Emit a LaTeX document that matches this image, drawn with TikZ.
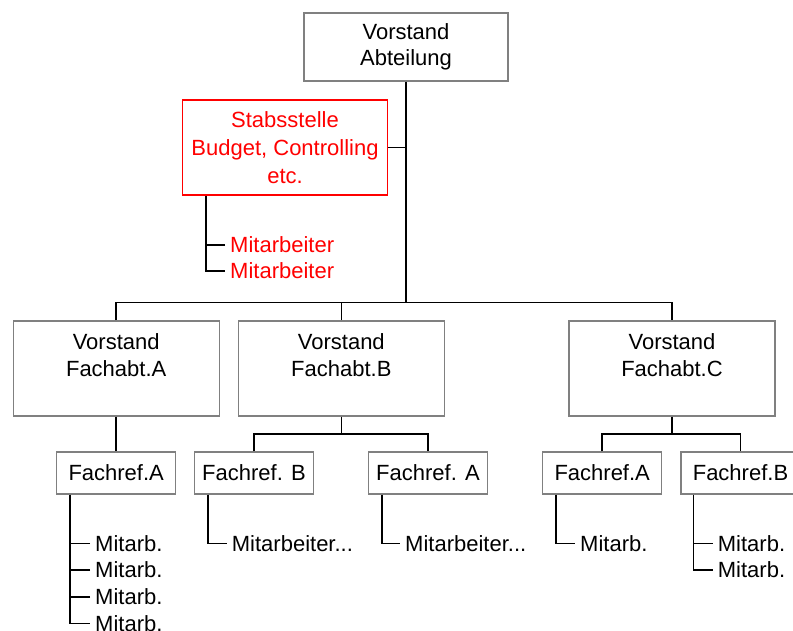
\documentclass[tikz,border=0pt]{standalone}
\usepackage{fontspec}
\setmainfont{Liberation Sans}
\definecolor{boxgray}{RGB}{128,128,128}
\begin{document}
\begin{tikzpicture}[x=1pt,y=-1pt,
  box/.style={draw=boxgray, line width=1.4pt, fill=white, inner sep=0pt,
    align=center, font=\fontsize{22}{26}\selectfont},
  stabbox/.style={box, draw=red, text=red, font=\fontsize{22}{28}\selectfont},
  bigbox/.style={box, minimum width=206pt, minimum height=95pt},
  refbox/.style={box, minimum width=119pt, minimum height=42pt},
  txt/.style={align=center, font=\fontsize{22}{27}\selectfont, inner sep=0pt},
  item/.style={anchor=west, font=\fontsize{22}{27}\selectfont, inner xsep=5pt, inner ysep=0pt},
  conn/.style={line width=1.6pt, black}]
\useasboundingbox (0,0) rectangle (793,630);

% top level
\node[box, minimum width=204pt, minimum height=68pt] (vor) at (406,47) {Vorstand\\Abteilung};
\node[stabbox, minimum width=205pt, minimum height=95pt] (stab) at (285,147.5)
  {Stabsstelle\\Budget, Controlling\\etc.};

% department heads
\node[bigbox] (fA) at (116.2,368.4) {};
\node[bigbox] (fB) at (341.3,368.4) {};
\node[bigbox] (fC) at (672,368.4) {};
\node[txt] (fAt) at (116.2,355.5) {Vorstand\\Fachabt.A};
\node[txt] (fBt) at (341.3,355.5) {Vorstand\\Fachabt.B};
\node[txt] (fCt) at (672,355.5) {Vorstand\\Fachabt.C};

% specialist units
\node[refbox] (rA)  at (116.2,473) {Fachref.A};
\node[refbox] (rB1) at (254,473)   {Fachref. B};
\node[refbox] (rB2) at (428,473)   {Fachref. A};
\node[refbox] (rC1) at (602.2,473) {Fachref.A};
\node[refbox] (rC2) at (740.5,473) {Fachref.B};

% staff entries
\node[item, text=red] (s1) at (225,245) {Mitarbeiter};
\node[item, text=red] (s2) at (225,271) {Mitarbeiter};
\node[item] (mA1) at (90,543.3) {Mitarb.};
\node[item] (mA2) at (90,570)   {Mitarb.};
\node[item] (mA3) at (90,596.7) {Mitarb.};
\node[item] (mA4) at (90,623.3) {Mitarb.};
\node[item] (mB1) at (226.7,543.3) {Mitarbeiter...};
\node[item] (mB2) at (400,543.3)   {Mitarbeiter...};
\node[item] (mC1) at (575,543.3)   {Mitarb.};
\node[item] (mC2) at (712.7,543.3) {Mitarb.};
\node[item] (mC3) at (712.7,570)   {Mitarb.};

% bus lines
\coordinate (bus) at (406,302.3);
\coordinate (busB) at (341.3,434);
\coordinate (busC) at (672,434);

% trunks of the staff lists
\coordinate (tS)  at ([xshift=24.4pt]stab.south west);
\coordinate (tA)  at ([xshift=14pt]rA.south west);
\coordinate (tB1) at ([xshift=14.3pt]rB1.south west);
\coordinate (tB2) at ([xshift=14.3pt]rB2.south west);
\coordinate (tC1) at ([xshift=14pt]rC1.south west);
\coordinate (tC2) at ([xshift=13.3pt]rC2.south west);

\begin{scope}[conn]
  \draw (vor.south) -- (bus);
  \draw (stab.east) -- (stab.east -| vor.south);
  \draw (fA.north) |- (bus) -| (fC.north);
  \draw (fB.north) -- (fB.north |- bus);

  \draw (fA.south) -- (rA.north);
  \draw (fB.south) -- (busB);
  \draw (rB1.north) |- (busB) -| (rB2.north);
  \draw (fC.south) -- (busC);
  \draw (rC1.north) |- (busC) -| (rC2.north);

  \draw (tS) |- (s2.west);
  \draw (s1.west) -- (s1.west -| tS);

  \draw (tA) |- (mA4.west);
  \foreach \i in {1,2,3} \draw (mA\i.west) -- (mA\i.west -| tA);

  \draw (tB1) |- (mB1.west);
  \draw (tB2) |- (mB2.west);
  \draw (tC1) |- (mC1.west);
  \draw (tC2) |- (mC3.west);
  \draw (mC2.west) -- (mC2.west -| tC2);
\end{scope}
\end{tikzpicture}
\end{document}
